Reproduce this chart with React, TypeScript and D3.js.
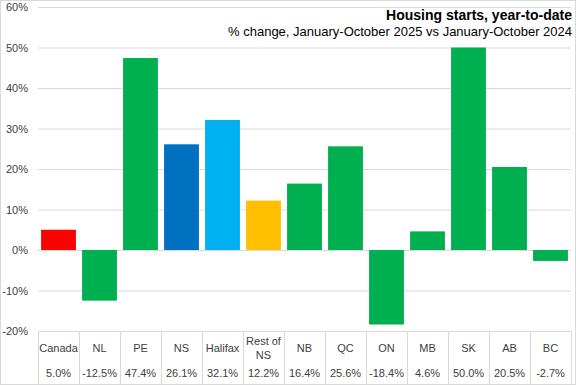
import { useEffect, useRef } from "react";
import * as d3 from "d3";

const categories = ["Canada", "NL", "PE", "NS", "Halifax", "Rest of NS", "NB", "QC", "ON", "MB", "SK", "AB", "BC"];
const values = [5.0, -12.5, 47.4, 26.1, 32.1, 12.2, 16.4, 25.6, -18.4, 4.6, 50.0, 20.5, -2.7];
const barColors = ["#FF0000", "#00B050", "#00B050", "#0070C0", "#00B0F0", "#FFC000", "#00B050", "#00B050", "#00B050", "#00B050", "#00B050", "#00B050", "#00B050"];
const yTicks = [-20, -10, 0, 10, 20, 30, 40, 50, 60];

const App = () => {
  const svgRef = useRef<SVGSVGElement>(null);

  useEffect(() => {
    document.body.style.margin = "0";
    const svg = d3.select(svgRef.current);
    svg.selectAll("*").remove();

    const width = 576;
    const height = 385;
    const left = 38, right = 571, top = 7, bottom = 331;
    const font = "'Liberation Sans', Arial, sans-serif";

    // outer border
    svg.append("rect")
      .attr("x", 0.5).attr("y", 0.5)
      .attr("width", width - 1).attr("height", height - 1)
      .attr("fill", "#fff").attr("stroke", "#d9d9d9");

    const x = d3.scaleBand().domain(categories).range([left, right]).paddingInner(0.15).paddingOuter(0.075);
    const y = d3.scaleLinear().domain([-20, 60]).range([bottom, top]);

    // gridlines
    svg.append("g").selectAll("line").data(yTicks).enter().append("line")
      .attr("x1", left).attr("x2", right)
      .attr("y1", (d) => y(d) + 0.5).attr("y2", (d) => y(d) + 0.5)
      .attr("stroke", "#d9d9d9").attr("stroke-width", 1);

    svg.append("g").selectAll("text").data(yTicks).enter().append("text")
      .attr("x", 28).attr("y", (d) => y(d) + 4)
      .attr("text-anchor", "end")
      .attr("font-family", font).attr("font-size", 11).attr("fill", "#404040")
      .text((d) => d + "%");

    // bars
    svg.append("g").selectAll("rect").data(values).enter().append("rect")
      .attr("x", (d, i) => x(categories[i])!)
      .attr("width", x.bandwidth())
      .attr("y", (d) => y(Math.max(0, d)))
      .attr("height", (d) => Math.abs(y(d) - y(0)))
      .attr("fill", (d, i) => barColors[i]);

    // table under the bars
    const step = x.step();
    const edges = d3.range(categories.length + 1).map((i) => left + i * step);
    svg.append("g").selectAll("line").data(edges).enter().append("line")
      .attr("x1", (d) => Math.round(d) + 0.5).attr("x2", (d) => Math.round(d) + 0.5)
      .attr("y1", bottom).attr("y2", 384)
      .attr("stroke", "#d9d9d9");

    const cells = svg.append("g").selectAll("g").data(categories).enter().append("g")
      .attr("transform", (d, i) => `translate(${left + (i + 0.5) * step},0)`);

    cells.append("text")
      .attr("text-anchor", "middle")
      .attr("font-family", font).attr("font-size", 11).attr("fill", "#404040")
      .each(function (d) {
        const t = d3.select(this);
        if (d === "Rest of NS") {
          t.append("tspan").attr("x", 0).attr("y", 345).text("Rest of");
          t.append("tspan").attr("x", 0).attr("y", 359).text("NS");
        } else {
          t.append("tspan").attr("x", 0).attr("y", 352).text(d);
        }
      });

    cells.append("text")
      .attr("y", 377)
      .attr("text-anchor", "middle")
      .attr("font-family", font).attr("font-size", 11).attr("fill", "#404040")
      .text((d, i) => values[i].toFixed(1) + "%");

    // title
    svg.append("text")
      .attr("x", 572).attr("y", 20)
      .attr("text-anchor", "end")
      .attr("font-family", "'Liberation Sans Narrow', 'Liberation Sans', Arial, sans-serif")
      .attr("font-weight", "bold").attr("font-size", 14).attr("fill", "#000")
      .text("Housing starts, year-to-date");
    svg.append("text")
      .attr("x", 572).attr("y", 36)
      .attr("text-anchor", "end")
      .attr("font-family", "'Liberation Sans Narrow', 'Liberation Sans', Arial, sans-serif")
      .attr("font-size", 13).attr("fill", "#000")
      .text("% change, January-October 2025 vs January-October 2024");
  }, []);

  return <svg ref={svgRef} width={576} height={385} style={{ display: "block" }}></svg>;
};

export default App;
